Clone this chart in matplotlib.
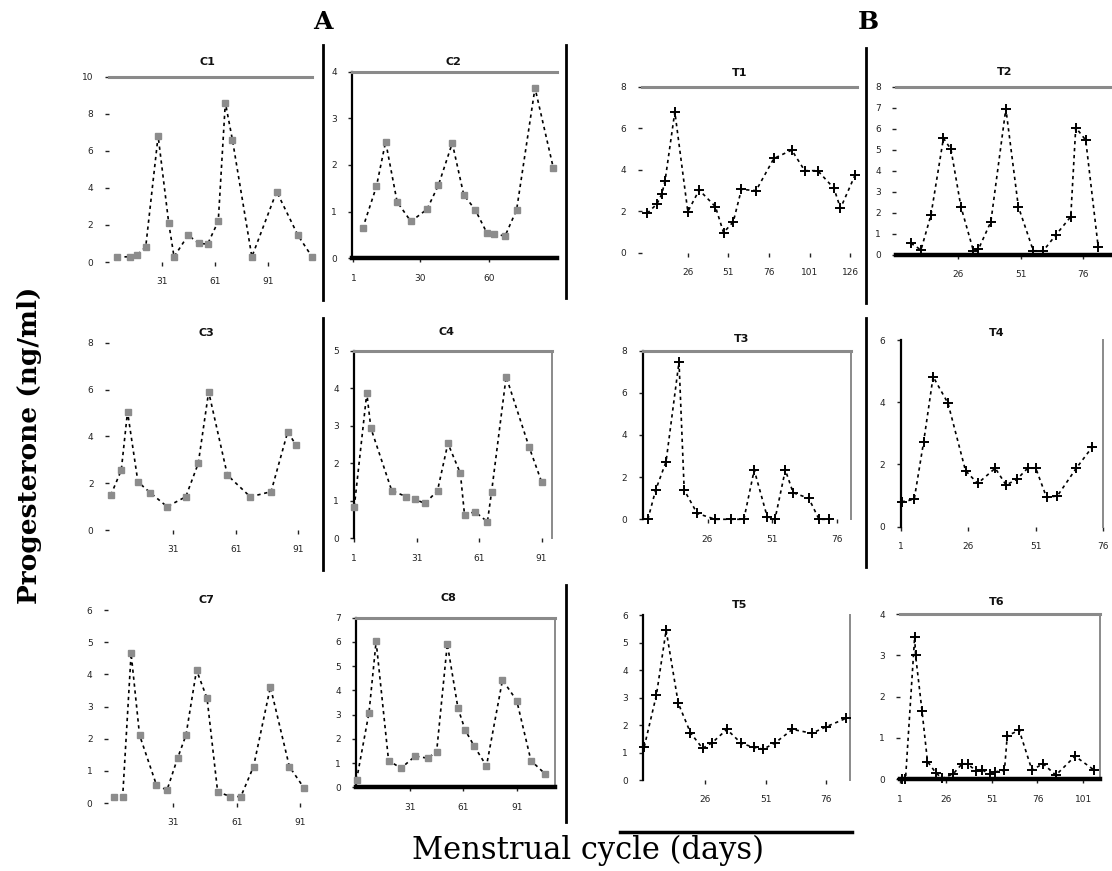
import matplotlib
matplotlib.use("Agg")
import matplotlib.pyplot as plt
from matplotlib.lines import Line2D

W, H = 1112, 871

# ---------------- data (days, progesterone ng/ml) ----------------
c1_days = [6, 13, 17, 22, 29, 35, 38, 46, 52, 57, 63, 67, 71, 82, 96, 108, 116]
c1_prog = [0.28, 0.28, 0.36, 0.82, 6.8, 2.1, 0.28, 1.45, 1.0, 0.97, 2.2, 8.6, 6.6, 0.28, 3.8, 1.45, 0.28]

c2_days = [5, 11, 15, 20, 26, 33, 38, 44, 49, 54, 59, 62, 67, 72, 80, 88]
c2_prog = [0.64, 1.54, 2.5, 1.21, 0.79, 1.05, 1.57, 2.47, 1.36, 1.04, 0.55, 0.52, 0.48, 1.04, 3.65, 1.93]

c3_days = [1, 6, 9, 14, 20, 28, 37, 43, 48, 57, 68, 78, 86, 90]
c3_prog = [1.5, 2.56, 5.06, 2.06, 1.59, 1.0, 1.42, 2.85, 5.91, 2.35, 1.42, 1.64, 4.2, 3.63]

c4_days = [1, 7, 9, 19, 26, 30, 35, 41, 46, 52, 54, 59, 65, 67, 74, 85, 91]
c4_prog = [0.84, 3.87, 2.93, 1.27, 1.11, 1.04, 0.93, 1.27, 2.53, 1.73, 0.62, 0.71, 0.44, 1.24, 4.31, 2.44, 1.51]

c7_days = [3, 7, 11, 15, 23, 28, 33, 37, 42, 47, 52, 58, 63, 69, 77, 86, 93]
c7_prog = [0.2, 0.2, 4.65, 2.11, 0.56, 0.4, 1.39, 2.11, 4.13, 3.25, 0.35, 0.2, 0.2, 1.13, 3.61, 1.13, 0.46]

c8_days = [1, 8, 12, 19, 26, 34, 41, 46, 52, 58, 62, 67, 74, 83, 91, 99, 107]
c8_prog = [0.3, 3.08, 6.02, 1.1, 0.79, 1.29, 1.2, 1.47, 5.92, 3.26, 2.37, 1.71, 0.88, 4.43, 3.58, 1.1, 0.55]

t1_days = [1, 7, 10, 12, 18, 26, 33, 43, 48, 54, 59, 68, 79, 90, 98, 106, 116, 120, 129]
t1_prog = [1.91, 2.36, 2.84, 3.48, 6.79, 1.99, 3.03, 2.23, 0.98, 1.5, 3.06, 3.0, 4.55, 4.95, 3.96, 3.96, 3.11, 2.15, 3.75]

t2_days = [7, 11, 15, 20, 23, 27, 32, 34, 39, 45, 50, 56, 60, 65, 71, 73, 77, 82]
t2_prog = [0.56, 0.24, 1.9, 5.55, 5.03, 2.3, 0.2, 0.27, 1.58, 6.96, 2.3, 0.2, 0.2, 0.95, 1.82, 6.06, 5.46, 0.37]

t3_days = [3, 6, 10, 15, 17, 22, 29, 35, 40, 44, 49, 52, 56, 59, 65, 69, 73]
t3_prog = [0, 1.39, 2.73, 7.47, 1.39, 0.28, 0, 0, 0, 2.34, 0.12, 0, 2.34, 1.26, 1.0, 0, 0]

t4_days = [1.3, 6, 9.5, 13, 18.5, 25, 29.5, 36, 40, 44, 48, 51, 55, 59, 66, 72]
t4_prog = [0.8, 0.88, 2.73, 4.82, 3.97, 1.8, 1.39, 1.88, 1.34, 1.52, 1.88, 1.88, 0.94, 0.99, 1.88, 2.57]

t5_days = [1, 6, 10, 15, 20, 25, 29, 35, 41, 46, 50, 55, 62, 70, 76, 84]
t5_prog = [1.21, 3.09, 5.45, 2.79, 1.72, 1.15, 1.36, 1.84, 1.33, 1.19, 1.12, 1.36, 1.84, 1.7, 1.94, 2.24]

t6_days = [2, 4, 9, 9.5, 13, 16, 20.5, 24, 30, 35, 38, 42.5, 46, 50, 53, 58, 59.5, 66, 73, 79, 86, 96.5, 107]
t6_prog = [0, 0, 3.45, 3.0, 1.66, 0.43, 0.16, 0.02, 0.13, 0.38, 0.37, 0.2, 0.22, 0.13, 0.18, 0.22, 1.05, 1.19, 0.22, 0.38, 0.1, 0.56, 0.22]

panel_titles = ["C1", "C2", "C3", "C4", "C7", "C8", "T1", "T2", "T3", "T4", "T5", "T6"]

fig = plt.figure(figsize=(W / 100, H / 100), dpi=100)
fig.patch.set_facecolor("white")

GREY = "#8a8a8a"


def px_axes(l, t, r, b):
    return fig.add_axes([l / W, 1 - b / H, (r - l) / W, (b - t) / H])


def panel(box, days, prog, xlim, ylim, xticks, yticks, spines, title, tpos, group):
    ax = px_axes(*box)
    ax.set_facecolor("none")
    if group == "A":
        ax.plot(days, prog, color="black", lw=1.2, ls=(0, (2, 2.2)),
                marker="s", ms=4.2, mfc="#8c8c8c", mec="#8c8c8c", clip_on=False, zorder=3)
    else:
        ax.plot(days, prog, color="black", lw=1.2, ls=(0, (2, 2.2)),
                marker="+", ms=6.5, mew=1.4, mec="black", clip_on=False, zorder=3)
    ax.set_xlim(*xlim)
    ax.set_ylim(*ylim)
    ax.set_xticks(xticks)
    ax.set_xticklabels([str(v) for v in xticks])
    ax.set_yticks(yticks)
    ax.set_yticklabels([str(v) for v in yticks])
    ax.tick_params(labelsize=6.5, length=3, width=1, colors="#222222", pad=8)
    for side in ["left", "right", "top", "bottom"]:
        sp = ax.spines[side]
        if side in spines:
            col, lw = spines[side]
            sp.set_color(col)
            sp.set_linewidth(lw)
        else:
            sp.set_visible(False)
    fig.text(tpos[0] / W, 1 - tpos[1] / H, title, ha="center", va="center",
             fontsize=8, fontweight="bold", color="#111111")
    return ax


# ---------------- panels A ----------------
panel((108.6, 76.7, 312, 262), c1_days, c1_prog, (1, 116), (0, 10), [31, 61, 91], [0, 2, 4, 6, 8, 10],
      {"top": (GREY, 2.2)}, panel_titles[0], (207, 62), "A")
panel((352.3, 71.7, 557.3, 258.3), c2_days, c2_prog, (0.5, 89.7), (0, 4), [1, 30, 60], [0, 1, 2, 3, 4],
      {"top": (GREY, 2.2), "left": ("black", 1.6), "bottom": ("black", 3.2)}, panel_titles[1], (453, 61.7), "A")
panel((108.8, 343, 300.2, 530), c3_days, c3_prog, (0, 92), (0, 8), [31, 61, 91], [0, 2, 4, 6, 8],
      {}, panel_titles[2], (206.7, 333), "A")
panel((354.3, 350.7, 551.7, 538.3), c4_days, c4_prog, (1, 95.9), (0, 5), [1, 31, 61, 91], [0, 1, 2, 3, 4, 5],
      {"top": (GREY, 2.2), "left": ("black", 1.6), "right": (GREY, 1.4)}, panel_titles[3], (446.7, 331.7), "A")
panel((107.9, 610, 310.5, 803), c7_days, c7_prog, (0, 96), (0, 6), [31, 61, 91], [0, 1, 2, 3, 4, 5, 6],
      {}, panel_titles[4], (206.7, 600), "A")
panel((356, 617.7, 555, 787.3), c8_days, c8_prog, (0.7, 112.5), (0, 7), [31, 61, 91], [0, 1, 2, 3, 4, 5, 6, 7],
      {"top": (GREY, 2.2), "left": ("black", 1.6), "right": (GREY, 1.4), "bottom": ("black", 3.2)},
      panel_titles[5], (448.3, 598.3), "A")

# ---------------- panels B ----------------
panel((641.7, 86.7, 856.7, 253), t1_days, t1_prog, (-2.4, 130), (0, 8), [26, 51, 76, 101, 126], [0, 2, 4, 6, 8],
      {"top": (GREY, 2.2)}, panel_titles[6], (740, 73), "B")
panel((896, 86.7, 1111.7, 255), t2_days, t2_prog, (1, 87.4), (0, 8), [26, 51, 76], [0, 1, 2, 3, 4, 5, 6, 7, 8],
      {"top": (GREY, 2.2), "bottom": ("black", 3.2)}, panel_titles[7], (1005, 71.7), "B")
panel((642.7, 350.7, 850.7, 519.3), t3_days, t3_prog, (1, 81.2), (0, 8), [26, 51, 76], [0, 2, 4, 6, 8],
      {"top": (GREY, 2.2), "left": ("black", 1.6), "right": (GREY, 1.4)}, panel_titles[8], (741.7, 339), "B")
panel((900.7, 340, 1103.3, 526.7), t4_days, t4_prog, (1.26, 76), (0, 6), [1, 26, 51, 76], [0, 2, 4, 6],
      {"left": ("black", 1.6), "right": (GREY, 1.4)}, panel_titles[9], (996.7, 333), "B")
panel((643.3, 615, 850, 780), t5_days, t5_prog, (0.6, 85.7), (0, 6), [26, 51, 76], [0, 1, 2, 3, 4, 5, 6],
      {"left": ("black", 1.6), "right": (GREY, 1.4)}, panel_titles[10], (740, 605), "B")
panel((900, 614, 1100, 779.3), t6_days, t6_prog, (1, 110.1), (0, 4), [1, 26, 51, 76, 101], [0, 1, 2, 3, 4],
      {"top": (GREY, 2.2), "right": (GREY, 1.4), "bottom": ("black", 3.2)}, panel_titles[11], (996.7, 601.7), "B")

# ---------------- separator lines from the scan ----------------
def fig_line(x0, y0, x1, y1, lw=2.0, color="black"):
    fig.add_artist(Line2D([x0 / W, x1 / W], [1 - y0 / H, 1 - y1 / H], color=color, lw=lw,
                          transform=fig.transFigure))

fig_line(323, 45, 323, 300)
fig_line(323, 318, 323, 570)
fig_line(566, 45, 566, 298)
fig_line(566, 585, 566, 822)
fig_line(866, 48, 866, 303)
fig_line(866, 318, 866, 567)
fig_line(620, 832, 852, 832, lw=2.5)

# ---------------- labels ----------------
fig.text(323 / W, 1 - 22 / H, "A", ha="center", va="center", fontsize=18, fontweight="bold",
         family="DejaVu Serif")
fig.text(868 / W, 1 - 22 / H, "B", ha="center", va="center", fontsize=18, fontweight="bold",
         family="DejaVu Serif")
fig.text(30 / W, 1 - 445 / H, "Progesterone (ng/ml)", rotation=90, ha="center", va="center",
         fontsize=19, fontweight="bold", family="DejaVu Serif")
fig.text(588 / W, 1 - 850 / H, "Menstrual cycle (days)", ha="center", va="center",
         fontsize=22, family="DejaVu Serif")

fig.savefig("out.png", dpi=100, facecolor="white")
